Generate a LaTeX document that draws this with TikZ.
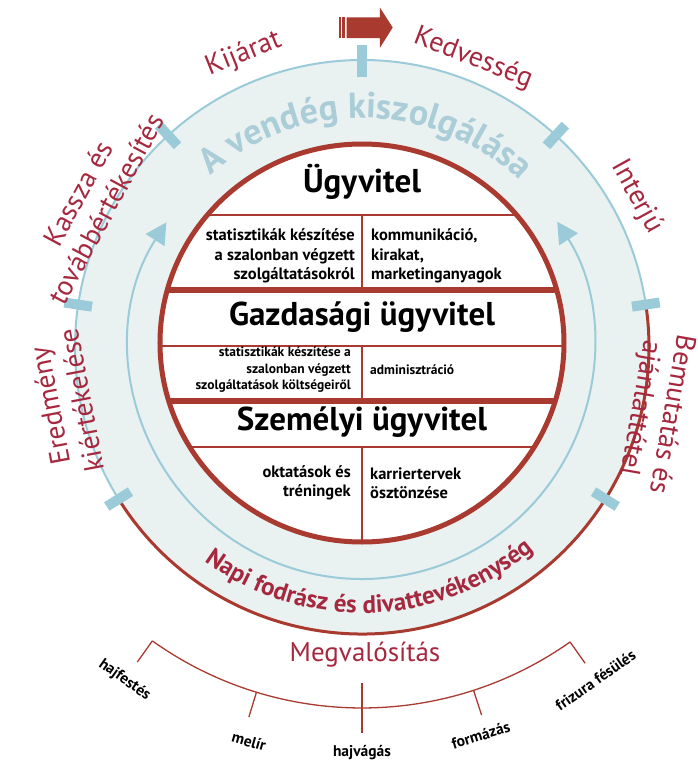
\documentclass[tikz,border=0pt]{standalone}
\usepackage{fontspec}
\setmainfont{PT Sans}
\usepackage{tikz}
\definecolor{slnRed}{RGB}{168,58,48}
\definecolor{slnWine}{RGB}{166,40,62}
\definecolor{slnBlue}{RGB}{155,203,216}
\definecolor{slnPale}{RGB}{233,241,241}
\definecolor{slnGhost}{RGB}{170,205,216}
\usetikzlibrary{arrows.meta, backgrounds, decorations.text}
\tikzstyle{outLabel} = [text=slnWine, font=\fontsize{28}{32}\selectfont, align=center, inner sep=0pt]
\tikzstyle{headText} = [font=\bfseries\fontsize{33}{33}\selectfont, inner sep=0pt, anchor=base]
\tikzstyle{cellText} = [font=\bfseries\fontsize{16.5}{19.5}\selectfont, inner sep=0pt]
\tikzstyle{cellSmall} = [font=\bfseries\fontsize{13.5}{16.5}\selectfont, inner sep=0pt]
\tikzstyle{workLabel} = [font=\bfseries\fontsize{15.5}{15.5}\selectfont, inner sep=0pt]
\tikzstyle{blueTick} = [draw=slnBlue, line width=10pt]
\tikzstyle{workTick} = [draw=slnRed, line width=1.3pt]
\tikzstyle{thinRule} = [draw=slnRed, line width=2pt]
\tikzstyle{thickRule} = [draw=slnRed, line width=6pt]

\begin{document}
\begin{tikzpicture}[x=1pt, y=1pt, >={Triangle[width=22pt,length=21pt]}]
        \useasboundingbox (-362,-417) rectangle (336,347);

        % Ring
        \begin{scope}[on background layer]
            \fill[slnPale] (0,0) circle (287);
            \fill[white] (0,4) ellipse (202 and 199);
        \end{scope}
        \draw[<->, slnBlue, line width=2pt] (147.5:232) arc (147.5:392.7:232);
        \draw[slnBlue, line width=2pt] (8.5:287) arc (8.5:212:287);
        \draw[slnRed, line width=3pt] (212:287) arc (212:368.5:287);

        % Curved texts
        \path[decorate, decoration={text along path, text align=center,
            text={|\color{slnGhost}\bfseries\fontsize{36}{36}\selectfont|A vendég kiszolgálása}}]
            (139:229) arc (139:39:229);
        \path[decorate, decoration={text along path, text align=center,
            text={|\color{slnWine}\bfseries\fontsize{25}{25}\selectfont|Napi fodrász és divattevékenység}}]
            (224:266) arc (224:320:266);

        % Ticks
        \foreach \a in {8.5, 47.5, 132.5, 171.5, 212, -32}
            \draw[blueTick] (\a:273) -- (\a:301);
        \draw[blueTick] (90:270) -- (90:302);

        % Start arrow
        \fill[slnRed] (-15.3,309) -- (18,309) -- (18,299.3) -- (30.7,319.5)
            -- (18,339.3) -- (18,329.7) -- (-15.3,329.7) -- cycle;
        \fill[slnRed] (-23,309) rectangle (-21,329.7);
        \fill[slnRed] (-20,309) rectangle (-16.7,329.7);

        % Inner rules
        \begin{scope}
            \clip (0,4) ellipse (202 and 199);
            \draw[thinRule] (-210,132) -- (210,132);
            \draw[thickRule] (-210,57) -- (210,57);
            \draw[thinRule] (-210,1) -- (210,1);
            \draw[thickRule] (-210,-54) -- (210,-54);
            \draw[thinRule] (-210,-100) -- (210,-100);
            \draw[thinRule] (0,132) -- (0,57) (0,1) -- (0,-54) (0,-100) -- (0,-200);
        \end{scope}
        \draw[slnRed, line width=5pt] (0,4) ellipse (202 and 199);

        % Nodes
        \node[headText] (ugyHead) at (0,155) {Ügyvitel};
        \node[cellText, align=right, anchor=east] (ugyLeft) at (-7,91) {statisztikák készítése\\a szalonban végzett\\szolgáltatásokról};
        \node[cellText, align=left, anchor=west] (ugyRight) at (9,91) {kommunikáció,\\kirakat,\\marketinganyagok};

        \node[headText] (gazHead) at (0,21.5) {Gazdasági ügyvitel};
        \node[cellSmall, align=right, anchor=east] (gazLeft) at (-11,-23) {statisztikák készítése a\\szalonban végzett\\szolgáltatások költségeiről};
        \node[cellSmall, anchor=west] (gazRight) at (8,-23) {adminisztráció};

        \node[headText] (szemHead) at (0,-83.7) {Személyi ügyvitel};
        \node[cellText, align=right, anchor=east] (szemLeft) at (-11,-136) {oktatások és\\tréningek};
        \node[cellText, align=left, anchor=west] (szemRight) at (8,-136) {karriertervek\\ösztönzése};

        % Outer labels
        \node[outLabel, rotate=22] (exitLbl) at (112:316) {Kijárat};
        \node[outLabel, rotate=-21] (likeLbl) at (68.9:309) {Kedvesség};
        \node[outLabel, rotate=-61] (askLbl) at (28.7:313) {Interjú};
        \node[outLabel, rotate=-100] (showLbl) at (-12.4:300) {Bemutatás és\\ajánlattétel};
        \node[outLabel, rotate=100.7] (evalLbl) at (190.7:302) {Eredmény\\kiértékelése};
        \node[outLabel, rotate=61.6] (cashLbl) at (151.6:307) {Kassza és\\továbbértékesítés};

        % Work arc
        \node[outLabel, font=\fontsize{27}{27}\selectfont] (workHead) at (3,-308) {Megvalósítás};
        \draw[workTick] (234.5:361) arc (234.5:305.2:361);
        \foreach \a in {234.5, 253, 288, 305.2}
            \draw[workTick] (\a:361) -- (\a:387);
        \draw[workTick] (270:336) -- (270:386);

        \node[workLabel, rotate=-35.4] (dyeLbl) at (234.5:409) {hajfestés};
        \node[workLabel, rotate=-16] (streakLbl) at (254:410) {melír};
        \node[workLabel] (cutLbl) at (270:406) {hajvágás};
        \node[workLabel, rotate=17] (shapeLbl) at (287:406) {formázás};
        \node[workLabel, rotate=35] (combLbl) at (305:407) {frizura fésülés};
\end{tikzpicture}
\end{document}
